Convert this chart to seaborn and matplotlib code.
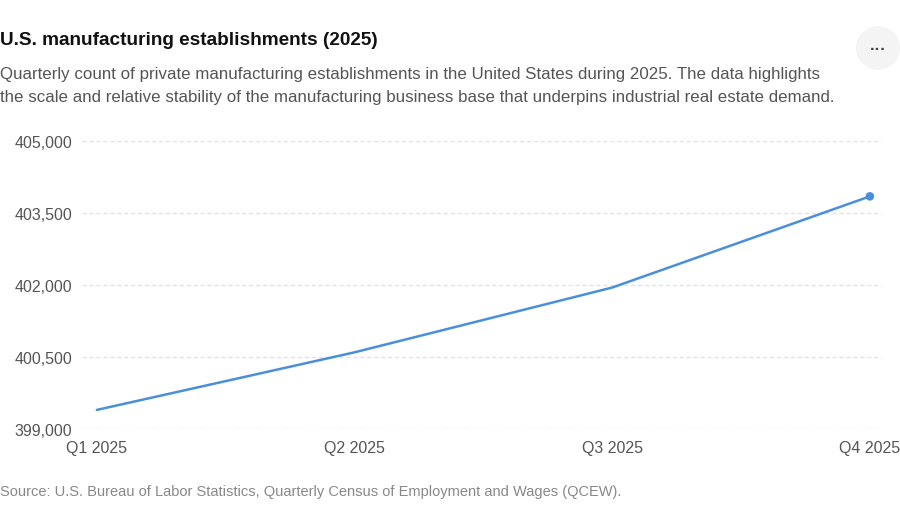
import matplotlib
matplotlib.use("Agg")
import matplotlib.pyplot as plt
import seaborn as sns
import pandas as pd
from matplotlib.ticker import FuncFormatter
from matplotlib.patches import Ellipse

# Quarterly establishment counts
quarters = ["Q1 2025", "Q2 2025", "Q3 2025", "Q4 2025"]
establishments = [399400, 400600, 401950, 403850]
y_ticks = [399000, 400500, 402000, 403500, 405000]

df = pd.DataFrame({"Quarter": quarters, "Establishments": establishments})
df["pos"] = range(len(df))

sns.set_theme(style="white")
plt.rcParams["font.family"] = ["Liberation Sans", "DejaVu Sans"]

fig = plt.figure(figsize=(9, 5.06), dpi=100)
fig.patch.set_facecolor("white")
ax = fig.add_axes([0.091, 0.150, 0.889, 0.569])

line_color = "#4A8FDB"
sns.lineplot(data=df, x="pos", y="Establishments", ax=ax, color=line_color, linewidth=1.8)
# dot on the latest quarter only
last = df.iloc[[-1]]
sns.scatterplot(data=last, x="pos", y="Establishments", ax=ax, color=line_color,
                s=38, edgecolor="none", zorder=5)

ax.set_xlim(-0.058, 3.047)
ax.set_ylim(399000, 405000)
ax.set_xticks(df["pos"])
ax.set_xticklabels(quarters)
ax.set_yticks(y_ticks)
ax.yaxis.set_major_formatter(FuncFormatter(lambda v, p: f"{int(v):,}"))
ax.tick_params(axis="both", length=0, labelsize=11.5, labelcolor="#555555")
ax.tick_params(axis="y", pad=7)
ax.tick_params(axis="x", pad=8)
ax.set_xlabel("")
ax.set_ylabel("")

ax.yaxis.grid(True, linestyle=(0, (3, 2)), color="#e2e2e2", linewidth=1)
ax.xaxis.grid(False)
for s in ax.spines.values():
    s.set_visible(False)

# Header text
fig.text(0.0, 0.920, "U.S. manufacturing establishments (2025)", fontsize=13.7,
         fontweight="bold", color="#111111", va="center", ha="left")
fig.text(0.0, 0.853, "Quarterly count of private manufacturing establishments in the United States during 2025. The data highlights",
         fontsize=12.15, color="#555555", va="center", ha="left")
fig.text(0.0, 0.808, "the scale and relative stability of the manufacturing business base that underpins industrial real estate demand.",
         fontsize=12.15, color="#555555", va="center", ha="left")
fig.text(0.0, 0.028, "Source: U.S. Bureau of Labor Statistics, Quarterly Census of Employment and Wages (QCEW).",
         fontsize=10.5, color="#888888", va="center", ha="left")

# menu button
fig.patches.append(Ellipse((878 / 900, 1 - 49 / 506), 44 / 900, 44 / 506,
                           transform=fig.transFigure, facecolor="#f4f4f4", edgecolor="none"))
fig.text(878 / 900, 1 - 49 / 506, "···", fontsize=12, color="#444444",
         ha="center", va="center", fontweight="bold")

fig.savefig("out.png", dpi=100, facecolor="white")
